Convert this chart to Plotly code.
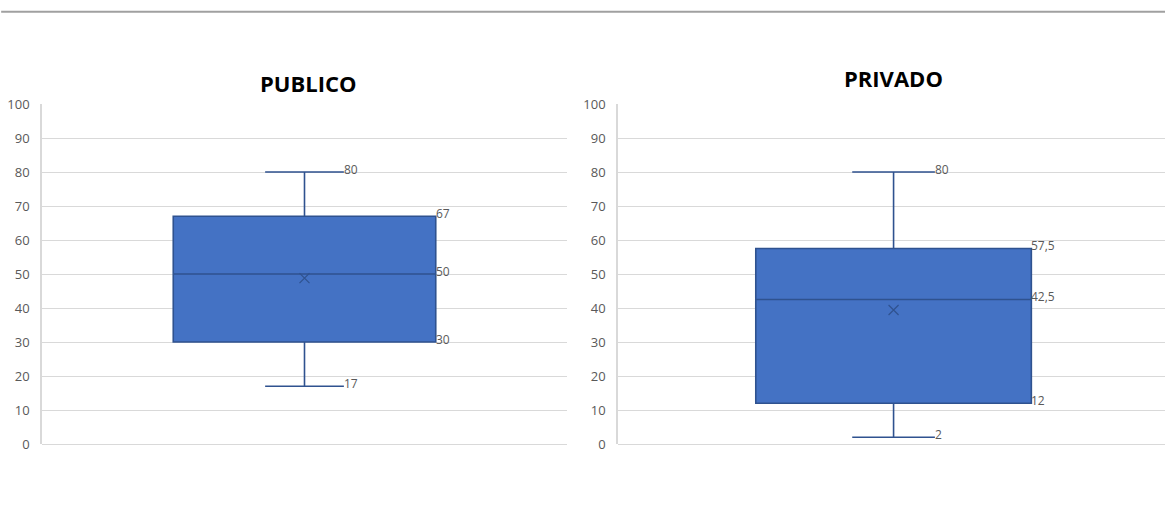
import plotly.graph_objects as go

# ---- data ----
groups = ["PUBLICO", "PRIVADO"]
mins = [17, 2]
q1s = [30, 12]
medians = [50, 42.5]
q3s = [67, 57.5]
maxs = [80, 80]
means = [48.8, 39.4]
y_ticks = [0, 10, 20, 30, 40, 50, 60, 70, 80, 90, 100]

W, H = 1165, 517
BOX_FILL = "#4472C4"
BOX_LINE = "#2F528F"
GRID = "#D9D9D9"
TXT = "#595959"
FONT = "Open Sans"

def fmt(v):
    s = f"{v:g}"
    return s.replace(".", ",")

fig = go.Figure()

# plot area pixel extents (left, right)
x_px = [(42, 567), (618, 1165)]
x_ranges = [[-1, 1], [-1, 0.985]]
y_top_px, y_bot_px = 104, 444
title_pos = [(308, 83), (893, 78)]
box_w = 1.0
whisker_w = 0.3

for i in range(2):
    xa = "x" if i == 0 else "x2"
    ya = "y" if i == 0 else "y2"
    fig.add_trace(go.Box(
        x=[0], q1=[q1s[i]], median=[medians[i]], q3=[q3s[i]],
        lowerfence=[mins[i]], upperfence=[maxs[i]],
        width=box_w, whiskerwidth=whisker_w,
        fillcolor=BOX_FILL, line=dict(color=BOX_LINE, width=1.6),
        boxpoints=False, hoverinfo="skip", showlegend=False,
        xaxis=xa, yaxis=ya,
    ))
    fig.add_trace(go.Scatter(
        x=[0], y=[means[i]], mode="markers",
        marker=dict(symbol="x-thin", size=10, line=dict(color=BOX_LINE, width=1.2)),
        hoverinfo="skip", showlegend=False, xaxis=xa, yaxis=ya,
    ))
    # value labels
    cap_r = whisker_w * box_w / 2
    box_r = box_w / 2
    for val, xv in [(maxs[i], cap_r), (q3s[i], box_r), (medians[i], box_r),
                    (q1s[i], box_r), (mins[i], cap_r)]:
        fig.add_annotation(
            x=xv, y=val, xref=xa, yref=ya, text=fmt(val), showarrow=False,
            xanchor="left", yanchor="middle", yshift=3, xshift=-2,
            font=dict(family=FONT, size=12, color=TXT),
        )
    # titles
    tx, ty = title_pos[i]
    fig.add_annotation(
        x=tx / W, y=1 - ty / H, xref="paper", yref="paper", text=f"<b>{groups[i]}</b>",
        showarrow=False, xanchor="center", yanchor="middle",
        font=dict(family=FONT, size=22, color="#000000"),
    )

ydom = [1 - y_bot_px / H, 1 - y_top_px / H]
axis_y = dict(
    range=[0, 100], tickvals=y_ticks, showgrid=True, gridcolor=GRID, gridwidth=1,
    zeroline=True, zerolinecolor=GRID, zerolinewidth=1,
    showline=True, linecolor=GRID, linewidth=1.5,
    tickfont=dict(family=FONT, size=13, color=TXT), ticks="", ticklabelstandoff=8,
    automargin=False, fixedrange=True,
)
axis_x = dict(showgrid=False, zeroline=False, showticklabels=False,
              showline=False, automargin=False, fixedrange=True)

fig.update_layout(
    width=W, height=H,
    margin=dict(l=0, r=0, t=0, b=0),
    paper_bgcolor="white", plot_bgcolor="white",
    xaxis=dict(domain=[x_px[0][0] / W, x_px[0][1] / W], range=x_ranges[0], anchor="y", **axis_x),
    xaxis2=dict(domain=[x_px[1][0] / W, x_px[1][1] / W], range=x_ranges[1], anchor="y2", **axis_x),
    yaxis=dict(domain=ydom, anchor="x", **axis_y),
    yaxis2=dict(domain=ydom, anchor="x2", **axis_y),
    shapes=[dict(type="line", xref="paper", yref="paper", x0=0.001, x1=1,
                 y0=1 - 11.7 / H, y1=1 - 11.7 / H, line=dict(color="#A0A0A0", width=2))],
    font=dict(family=FONT),
)

fig.write_html(
    "out.html",
    config={"displayModeBar": False},
    post_script="document.body.style.margin='0';document.body.style.overflow='hidden';",
)
